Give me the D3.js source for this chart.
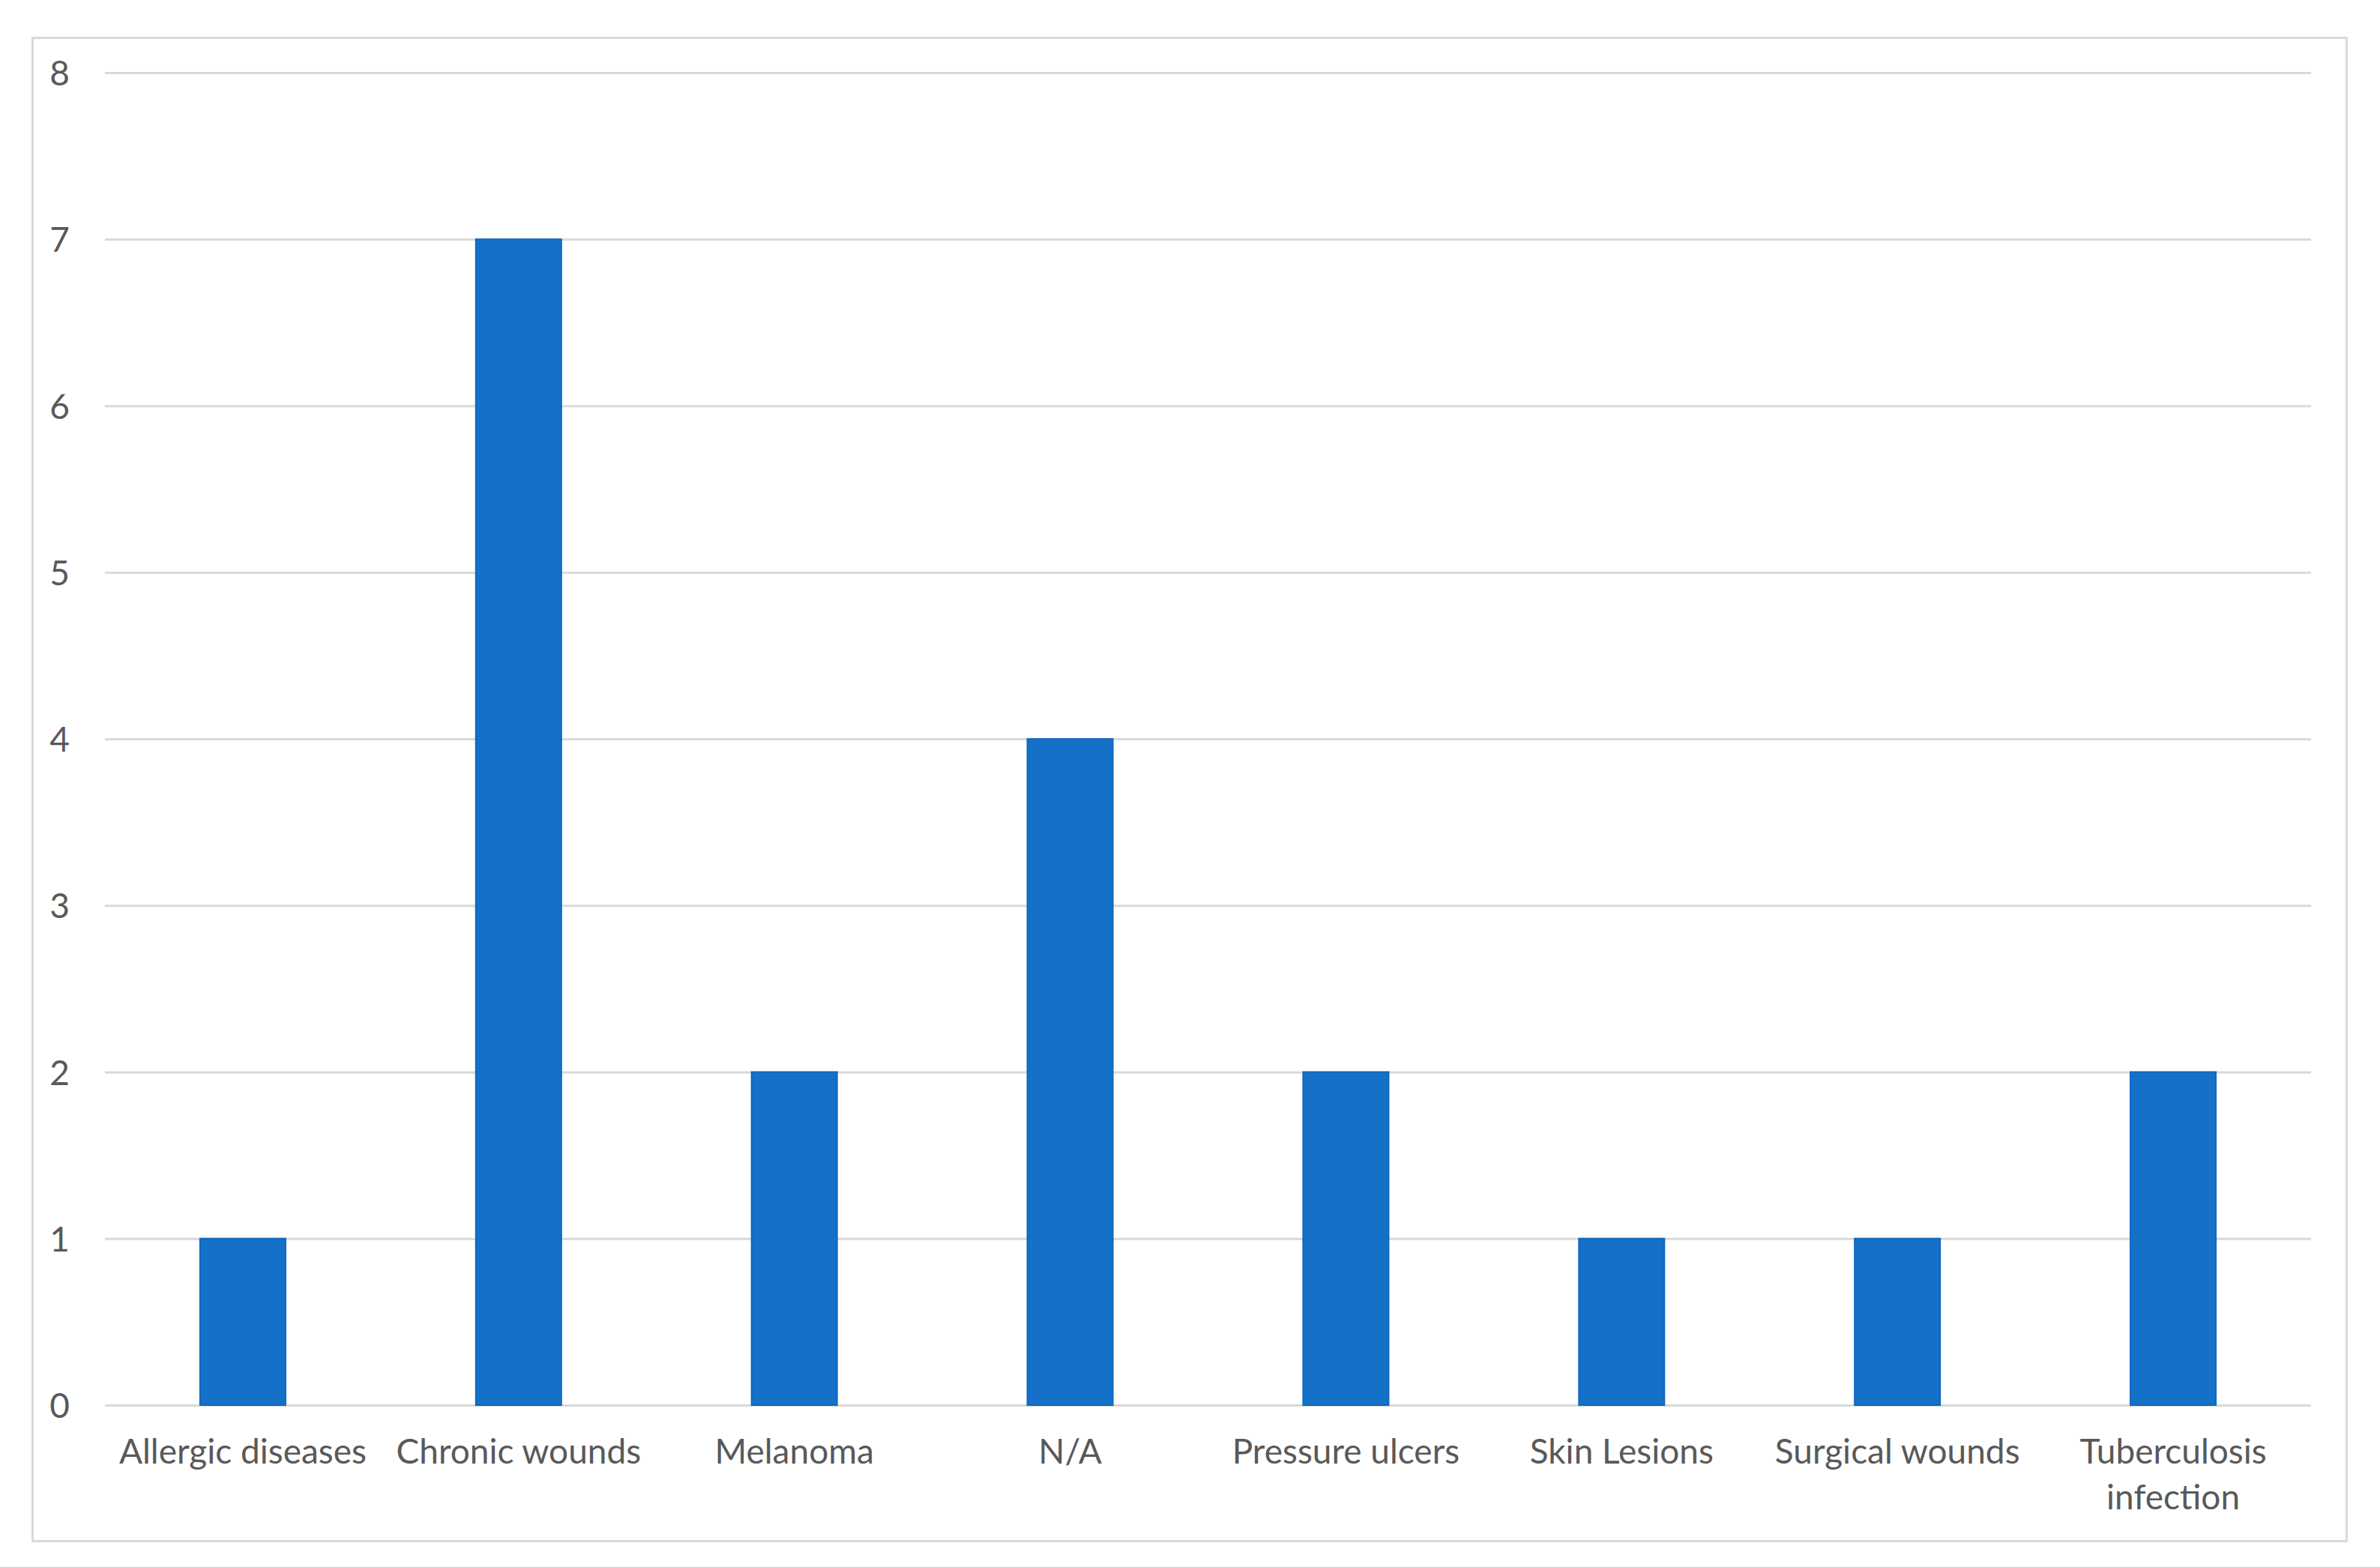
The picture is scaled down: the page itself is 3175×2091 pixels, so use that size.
<!DOCTYPE html>
<html>
<head>
<meta charset="utf-8">
<script src="https://cdn.jsdelivr.net/npm/d3@7"></script>
<style>
  html, body { margin: 0; padding: 0; background: #fff; }
  svg { display: block; }
</style>
</head>
<body>
<svg id="chart" width="3175" height="2091"></svg>
<script>
const categories = ["Allergic diseases", "Chronic wounds", "Melanoma", "N/A", "Pressure ulcers", "Skin Lesions", "Surgical wounds", "Tuberculosis infection"];
const values = [1, 7, 2, 4, 2, 1, 1, 2];
const yTicks = [0, 1, 2, 3, 4, 5, 6, 7, 8];

const W = 3175, H = 2091;
const svg = d3.select("#chart");
const plot = { left: 140, right: 3083, top: 97, bottom: 1875 };
const fontFamily = "Lato, 'Open Sans', sans-serif";
const textColor = "#595959";

// frame
svg.append("rect")
  .attr("x", 43.5).attr("y", 50.5)
  .attr("width", 3130 - 43).attr("height", 2056 - 50)
  .attr("fill", "#fff").attr("stroke", "#d9d9d9").attr("stroke-width", 3);

const x = d3.scaleBand().domain(categories).range([plot.left, plot.right]).paddingInner(0.69).paddingOuter(0.345);
const y = d3.scaleLinear().domain([0, 8]).range([plot.bottom, plot.top]);

// gridlines
const yAxis = d3.axisLeft(y).tickValues(yTicks).tickSize(-(plot.right - plot.left)).tickPadding(47).tickFormat(d3.format("d"));
const gy = svg.append("g").attr("transform", `translate(${plot.left},0)`).call(yAxis);
gy.select(".domain").remove();
gy.selectAll(".tick line").attr("stroke", "#d9d9d9").attr("stroke-width", 3);
gy.selectAll(".tick text").attr("fill", textColor).attr("font-family", fontFamily).attr("font-size", 46).attr("dy", "0.36em");

// bars
svg.append("g").selectAll("rect").data(categories).join("rect")
  .attr("x", d => x(d))
  .attr("width", x.bandwidth())
  .attr("y", (d, i) => y(values[i]))
  .attr("height", (d, i) => y(0) - y(values[i]))
  .attr("fill", "#1571c8")
  .attr("stroke", "#0f68c2").attr("stroke-width", 2);

// x labels
const xAxis = d3.axisBottom(x).tickSize(0).tickPadding(0);
const gx = svg.append("g").attr("transform", `translate(0,${plot.bottom})`).call(xAxis);
gx.select(".domain").remove();
gx.selectAll(".tick text").each(function(d) {
  const t = d3.select(this);
  t.text(null).attr("y", 0).attr("dy", null)
    .attr("fill", textColor).attr("font-family", fontFamily).attr("font-size", 46);
  const lines = d === "Tuberculosis infection" ? ["Tuberculosis", "infection"] : [d];
  lines.forEach((ln, k) => {
    t.append("tspan").attr("x", 0).attr("y", 78 + k * 61).text(ln);
  });
});
</script>
</body>
</html>
